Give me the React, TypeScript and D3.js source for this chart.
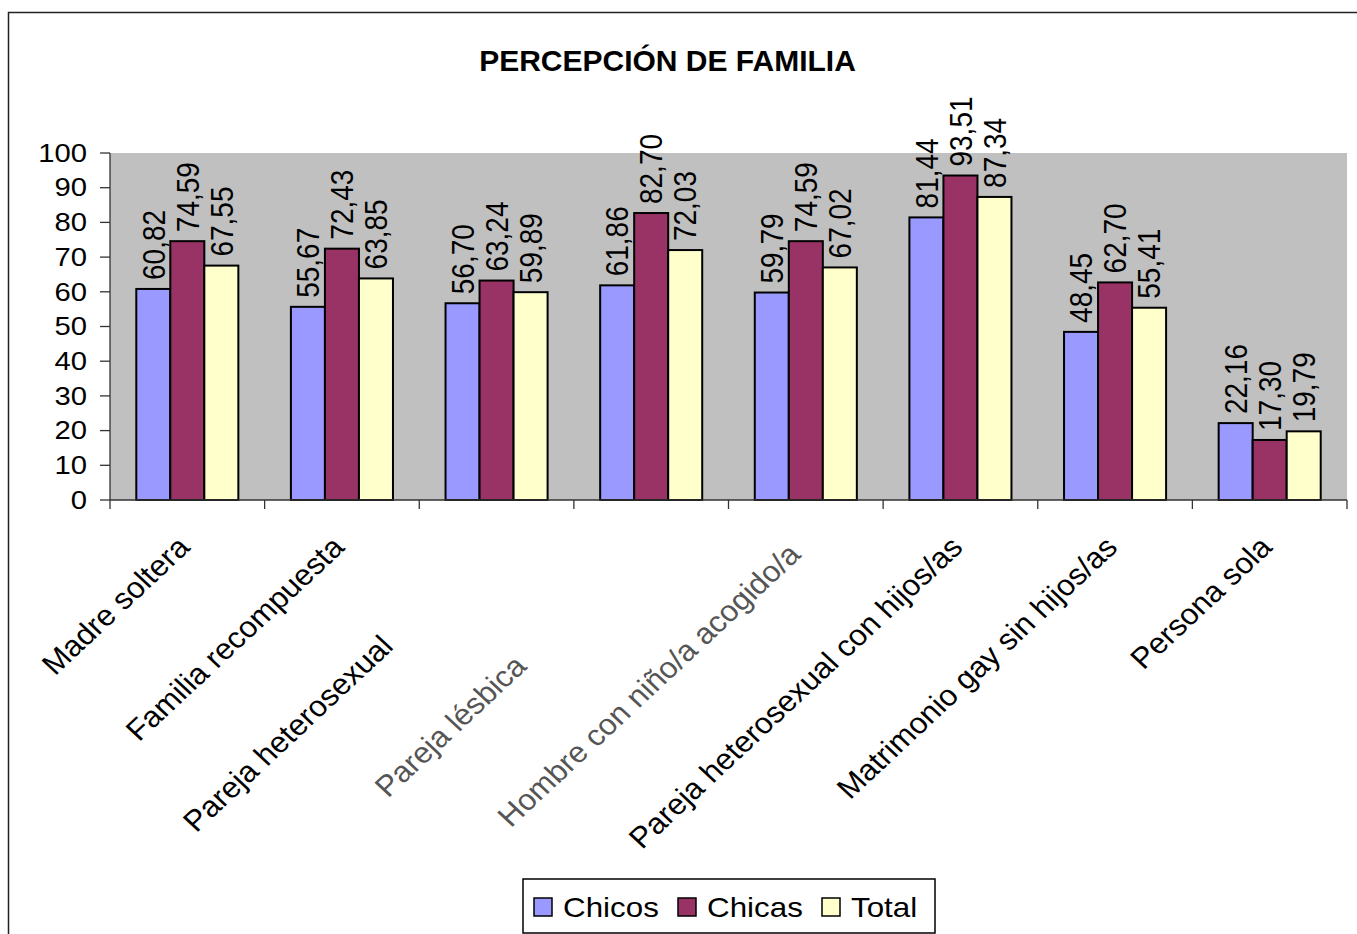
import React from "react";
import { scaleBand, scaleLinear, range } from "d3";

// chart values
const categories = [
  "Madre soltera",
  "Familia recompuesta",
  "Pareja heterosexual",
  "Pareja lésbica",
  "Hombre con niño/a acogido/a",
  "Pareja heterosexual con hijos/as",
  "Matrimonio gay sin hijos/as",
  "Persona sola",
];
const seriesNames = ["Chicos", "Chicas", "Total"];
const chicos = [60.82, 55.67, 56.7, 61.86, 59.79, 81.44, 48.45, 22.16];
const chicas = [74.59, 72.43, 63.24, 82.7, 74.59, 93.51, 62.7, 17.3];
const total = [67.55, 63.85, 59.89, 72.03, 67.02, 87.34, 55.41, 19.79];
const yTicks = [0, 10, 20, 30, 40, 50, 60, 70, 80, 90, 100];
const title = "PERCEPCIÓN DE FAMILIA";

const colors = ["#9999FF", "#993366", "#FFFFCC"];
const font = "'Liberation Sans', Arial, sans-serif";

// plot frame
const W = 1357;
const H = 934;
const left = 110;
const right = 1347;
const top = 153;
const bottom = 500;

// the source picture is a bit wider than tall, text looks stretched
const stretch = 1.12;

// excel drew some category labels slid down along their own line
const labelSlide = [0, 0, -140, -168, -10, 0, 0, 0];
const labelFaded = [false, false, false, true, true, false, false, false];

const fmt = (v: number) => v.toFixed(2).replace(".", ",");

export default function App() {
  const x0 = scaleBand<string>().domain(categories).range([left, right]);
  const bw = x0.bandwidth();
  const x1 = scaleBand<string>()
    .domain(seriesNames)
    .range([bw * 0.17, bw * 0.83]);
  const y = scaleLinear().domain([0, 100]).range([bottom, top]);
  const values = [chicos, chicas, total];

  const labelSize = 28;
  const legendX = 523;
  const legendY = 879;
  const legendW = 412;
  const legendH = 54;

  return (
    <svg
      width={W}
      height={H}
      style={{ position: "absolute", left: 0, top: 0, background: "#fff" }}
      fontFamily={font}
    >
      <rect x={8.5} y={12.5} width={1400} height={1000} fill="#fff" stroke="#222" strokeWidth={1.5} />

      <text x={667.5} y={71} textAnchor="middle" fontSize={30} fontWeight="bold">
        {title}
      </text>

      <rect x={left} y={top} width={right - left} height={bottom - top} fill="#C0C0C0" />

      {/* bars */}
      {categories.map((c, i) => (
        <g key={c} transform={`translate(${x0(c)},0)`}>
          {seriesNames.map((s, k) => (
            <rect
              key={s}
              x={x1(s)}
              y={y(values[k][i])}
              width={x1.bandwidth()}
              height={bottom - y(values[k][i])}
              fill={colors[k]}
              stroke="#000"
              strokeWidth={2}
            />
          ))}
        </g>
      ))}

      {/* value labels */}
      {categories.map((c, i) =>
        seriesNames.map((s, k) => {
          const cx =
            (x0(c) as number) + (x1(s) as number) + x1.bandwidth() / 2 + labelSize * 0.36 * stretch;
          const cy = y(values[k][i]) - 9;
          return (
            <text
              key={c + s}
              transform={`translate(${cx},${cy}) scale(${stretch},1) rotate(-90)`}
              fontSize={labelSize}
              textAnchor="start"
            >
              {fmt(values[k][i])}
            </text>
          );
        })
      )}

      {/* axes */}
      <line x1={left} x2={left} y1={top} y2={bottom} stroke="#333" strokeWidth={1.3} />
      <line x1={left} x2={right} y1={bottom} y2={bottom} stroke="#333" strokeWidth={1.3} />
      {yTicks.map((t) => (
        <g key={t}>
          <line x1={left - 10} x2={left} y1={y(t)} y2={y(t)} stroke="#333" strokeWidth={1.3} />
          <text
            transform={`translate(87,${y(t)}) scale(${stretch + 0.05},1)`}
            dy="0.35em"
            textAnchor="end"
            fontSize={25}
          >
            {t}
          </text>
        </g>
      ))}
      {range(categories.length + 1).map((i) => {
        const tx = left + i * bw;
        return <line key={i} x1={tx} x2={tx} y1={bottom} y2={bottom + 9} stroke="#333" strokeWidth={1.3} />;
      })}

      {/* category labels */}
      {categories.map((c, i) => {
        const ax = (x0(c) as number) + bw / 2 + 4;
        const ay = 549;
        return (
          <text
            key={c}
            transform={`translate(${ax},${ay}) scale(1.07,1) rotate(-45)`}
            dx={labelSlide[i]}
            textAnchor="end"
            fontSize={29.5}
            fill={labelFaded[i] ? "#555" : "#000"}
          >
            {c}
          </text>
        );
      })}

      {/* legend */}
      <rect x={legendX} y={legendY} width={legendW} height={legendH} fill="#fff" stroke="#000" strokeWidth={1.5} />
      {seriesNames.map((s, k) => {
        const ix = legendX + 11 + k * 144;
        return (
          <g key={s}>
            <rect x={ix} y={legendY + 19} width={18} height={18} fill={colors[k]} stroke="#000" strokeWidth={1.5} />
            <text transform={`translate(${ix + 29},${legendY + 38}) scale(${stretch},1)`} fontSize={28}>
              {s}
            </text>
          </g>
        );
      })}
    </svg>
  );
}
